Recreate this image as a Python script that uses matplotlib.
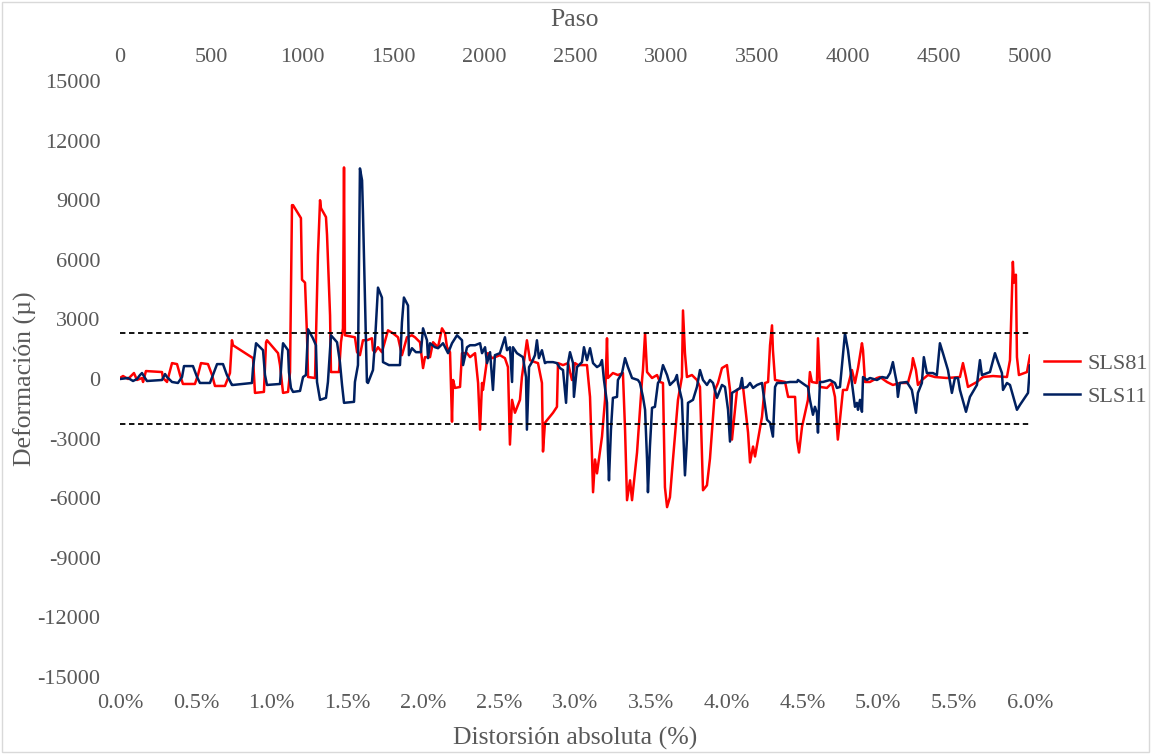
import matplotlib
matplotlib.use("Agg")
import matplotlib.pyplot as plt
from matplotlib.patches import Rectangle

# ---- data (x in % distortion, y in microstrain) ----
sls81_x = [0.000, 0.020, 0.053, 0.092, 0.112, 0.145, 0.152, 0.171, 0.277, 0.283, 0.310, 0.343, 0.376, 0.396,
           0.415, 0.494, 0.514, 0.534, 0.580, 0.607, 0.626, 0.692, 0.712, 0.725, 0.738, 0.745, 0.877, 0.890,
           0.949, 0.963, 0.969, 1.042, 1.055, 1.075, 1.108, 1.121, 1.134, 1.141, 1.193, 1.200, 1.220, 1.233,
           1.240, 1.286, 1.305, 1.319, 1.325, 1.358, 1.365, 1.385, 1.391, 1.444, 1.457, 1.470, 1.477, 1.483,
           1.549, 1.563, 1.582, 1.602, 1.628, 1.661, 1.668, 1.681, 1.701, 1.727, 1.767, 1.800, 1.833, 1.859,
           1.892, 1.925, 1.945, 1.978, 1.998, 2.011, 2.044, 2.064, 2.097, 2.123, 2.143, 2.156, 2.176, 2.189,
           2.196, 2.209, 2.242, 2.255, 2.288, 2.308, 2.341, 2.361, 2.374, 2.387, 2.393, 2.426, 2.453, 2.472,
           2.505, 2.538, 2.558, 2.571, 2.585, 2.604, 2.637, 2.650, 2.683, 2.703, 2.736, 2.756, 2.782, 2.789,
           2.802, 2.855, 2.881, 2.888, 2.921, 2.954, 2.980, 3.000, 3.020, 3.079, 3.099, 3.112, 3.119, 3.132,
           3.145, 3.178, 3.198, 3.211, 3.217, 3.250, 3.283, 3.316, 3.330, 3.343, 3.363, 3.376, 3.409, 3.442,
           3.448, 3.462, 3.475, 3.508, 3.541, 3.560, 3.580, 3.593, 3.607, 3.626, 3.646, 3.679, 3.705, 3.712,
           3.725, 3.738, 3.771, 3.804, 3.824, 3.844, 3.870, 3.890, 3.923, 3.943, 3.969, 4.002, 4.022, 4.035,
           4.068, 4.108, 4.141, 4.154, 4.174, 4.187, 4.233, 4.253, 4.273, 4.286, 4.299, 4.305, 4.319, 4.385,
           4.405, 4.451, 4.464, 4.477, 4.497, 4.536, 4.549, 4.562, 4.595, 4.602, 4.615, 4.661, 4.694, 4.714,
           4.733, 4.747, 4.767, 4.793, 4.826, 4.846, 4.866, 4.892, 4.899, 4.912, 4.945, 4.991, 5.011, 5.057,
           5.096, 5.142, 5.195, 5.221, 5.228, 5.248, 5.261, 5.287, 5.327, 5.373, 5.452, 5.538, 5.558, 5.578,
           5.591, 5.650, 5.690, 5.756, 5.848, 5.868, 5.887, 5.894, 5.907, 5.914, 5.927, 5.980, 6.000, 6.007]
sls81_y = [50, 150, 0, 300, -50, 50, -150, 400, 350, 50, -150, 800, 750, 200,
           -250, -250, 200, 800, 750, 200, -350, -350, 50, 300, 1950, 1700, 1050, -700,
           -650, 1850, 1950, 1300, 700, -700, -650, 350, 8750, 8750, 8100, 5000, 4850, 2200,
           100, 50, 6250, 9000, 8600, 8150, 7250, 3200, 350, 350, 1850, 2550, 10650, 2200,
           2100, 1350, 1200, 1950, 1950, 2050, 1450, 1350, 1600, 1350, 2450, 2300, 2100, 1200,
           2100, 2200, 2100, 1850, 550, 1100, 1100, 1850, 1600, 2550, 2300, 1600, 1350, -2150,
           -50, -450, -400, 1300, 1300, 1100, 1300, -200, -2550, -200, -550, 1300, 1050, 1100,
           1200, 1050, 600, -3300, -1050, -1700, -1050, 100, 1950, 950, 850, 800, -200, -3650,
           -2200, -1700, -1400, 800, 700, 800, -50, 800, 700, 700, -900, -3900, -5700, -4050,
           -4750, -2900, -1050, 2050, 50, 300, 200, 300, -2550, -6100, -5100, -6100, -3700, -50,
           450, 2300, 350, 50, 200, -150, -200, -5450, -6450, -5950, -4050, -1050, 100, 3450,
           1300, 100, 200, -50, -400, -5600, -5350, -4000, -550, -200, 550, 700, -550, -3050,
           -550, -400, -2700, -4200, -3400, -3900, -1900, -200, -150, 1700, 2700, 1450, -50, -150,
           -900, -900, -3050, -3700, -2400, -1050, 350, -150, -200, 2050, -400, -450, -200, -900,
           -3050, -2050, -550, -550, 450, -200, 550, 1800, 1450, -150, -150, 50, 100, -150,
           -300, -200, -200, 550, 1050, 450, -300, -50, 200, 100, 50, 100, 800, 100,
           -400, -150, 100, 150, 100, 950, 5900, 4850, 5250, 1100, 200, 350, 1200, 1150]

sls11_x = [0.000, 0.053, 0.086, 0.112, 0.132, 0.145, 0.165, 0.178, 0.277, 0.297, 0.310, 0.343, 0.382, 0.409,
           0.422, 0.481, 0.508, 0.527, 0.593, 0.613, 0.640, 0.679, 0.705, 0.738, 0.745, 0.870, 0.877, 0.897,
           0.943, 0.956, 0.969, 1.055, 1.068, 1.075, 1.108, 1.114, 1.127, 1.141, 1.187, 1.207, 1.226, 1.240,
           1.272, 1.292, 1.299, 1.319, 1.358, 1.371, 1.391, 1.431, 1.450, 1.464, 1.477, 1.543, 1.549, 1.569,
           1.582, 1.596, 1.602, 1.628, 1.635, 1.668, 1.681, 1.701, 1.727, 1.734, 1.773, 1.846, 1.859, 1.872,
           1.899, 1.905, 1.925, 1.951, 1.984, 1.998, 2.024, 2.031, 2.044, 2.077, 2.097, 2.130, 2.163, 2.189,
           2.222, 2.255, 2.262, 2.288, 2.308, 2.341, 2.374, 2.387, 2.407, 2.420, 2.440, 2.459, 2.472, 2.505,
           2.538, 2.552, 2.571, 2.585, 2.591, 2.617, 2.657, 2.677, 2.683, 2.697, 2.716, 2.736, 2.749, 2.762,
           2.782, 2.802, 2.815, 2.855, 2.881, 2.901, 2.921, 2.941, 2.954, 2.967, 2.987, 2.993, 3.013, 3.046,
           3.059, 3.079, 3.099, 3.119, 3.145, 3.165, 3.178, 3.191, 3.211, 3.217, 3.224, 3.237, 3.250, 3.277,
           3.283, 3.310, 3.330, 3.349, 3.376, 3.415, 3.428, 3.448, 3.462, 3.475, 3.481, 3.494, 3.508, 3.527,
           3.547, 3.560, 3.580, 3.607, 3.626, 3.659, 3.672, 3.679, 3.705, 3.712, 3.725, 3.738, 3.745, 3.778,
           3.804, 3.824, 3.844, 3.870, 3.890, 3.910, 3.936, 3.969, 3.989, 4.009, 4.022, 4.035, 4.068, 4.088,
           4.101, 4.108, 4.134, 4.154, 4.174, 4.200, 4.233, 4.239, 4.266, 4.286, 4.305, 4.319, 4.332, 4.371,
           4.418, 4.464, 4.470, 4.497, 4.516, 4.536, 4.549, 4.562, 4.569, 4.582, 4.595, 4.602, 4.615, 4.635,
           4.681, 4.714, 4.727, 4.747, 4.780, 4.800, 4.826, 4.846, 4.859, 4.866, 4.879, 4.892, 4.899, 4.925,
           4.945, 4.991, 5.024, 5.057, 5.077, 5.096, 5.109, 5.122, 5.129, 5.142, 5.188, 5.221, 5.248, 5.261,
           5.287, 5.300, 5.320, 5.360, 5.386, 5.406, 5.426, 5.459, 5.485, 5.505, 5.525, 5.538, 5.578, 5.604,
           5.650, 5.670, 5.683, 5.736, 5.769, 5.789, 5.815, 5.822, 5.848, 5.868, 5.914, 5.934, 5.987, 6.000,
           6.007]
sls11_y = [0, 50, -100, 0, 200, 300, 50, -100, -50, 250, 100, -150, -200, 100,
           650, 650, 100, -200, -200, 200, 750, 750, 200, -300, -300, -200, 550, 1800,
           1450, 200, -300, -250, 1200, 1800, 1450, 350, -450, -650, -600, 100, 200, 2500,
           2050, 1700, -150, -1050, -950, -150, 2200, 1850, 850, -300, -1200, -1150, -150, 700,
           10600, 10000, 8350, -150, -200, 450, 1850, 4600, 4100, 850, 700, 700, 2850, 4100,
           3700, 1200, 1550, 1350, 1350, 2550, 1950, 1050, 1800, 1600, 1550, 1800, 1300, 1800,
           2200, 1950, 700, 1600, 1700, 1700, 1800, 1300, 1600, 800, 1350, -550, 1200, 1300,
           2100, 1450, 1600, -150, 1600, 1300, 1100, 100, -2550, 600, 850, 1200, 1950, 1050,
           1450, 800, 850, 850, 800, 550, 450, -1200, 800, 1350, 800, -900, 600, 850,
           1600, 950, 1550, 800, 600, 700, 950, -50, -1200, -3550, -5100, -2550, -950, -900,
           -50, 300, 1050, 600, 50, -50, -200, -900, -1550, -4050, -5700, -3400, -1450, -1400,
           -200, -50, 700, 200, -300, -50, 200, -200, -1050, -2400, -4850, -3050, -1200, -1050,
           -400, 450, -50, -300, -50, -200, -950, -300, -400, -1550, -3150, -700, -550, -450,
           50, -450, -400, -200, -450, -300, -200, -550, -2050, -2200, -2900, -400, -200, -200,
           -150, -150, -50, -200, -300, -400, -1050, -1550, -1800, -1400, -1700, -2700, -150, -150,
           -50, -200, -450, -400, 2300, 1450, -200, -1400, -1200, -1550, -1050, -1650, 100, -50,
           50, -50, 100, 50, 300, 850, 300, -200, -900, -200, -150, -550, -1700, -700,
           -200, 1100, 300, 300, 200, 1800, 1300, 450, -700, 50, 50, -550, -1650, -900,
           -300, 950, 200, 350, 1300, 850, 300, -550, -200, -300, -1550, -1300, -700, 700,
           200]

limit_upper = 2330
limit_lower = -2270

x_min, x_max = 0.0, 6.0
paso_min, paso_max = 0, 5000
y_min, y_max, y_step = -15000, 15000, 3000
x_ticks = [0.0, 0.5, 1.0, 1.5, 2.0, 2.5, 3.0, 3.5, 4.0, 4.5, 5.0, 5.5, 6.0]
paso_ticks = [0, 500, 1000, 1500, 2000, 2500, 3000, 3500, 4000, 4500, 5000]

# ---- plotting ----
plt.rcParams['font.family'] = ['Liberation Serif', 'DejaVu Serif']
plt.rcParams['axes.unicode_minus'] = False
gray = '#595959'

fig = plt.figure(figsize=(11.51, 7.54), dpi=100)
fig.patches.append(Rectangle((0.0015, 0.002), 0.997, 0.996, transform=fig.transFigure,
                             fill=False, edgecolor='#d9d9d9', linewidth=1.0))
ax = fig.add_axes([120/1151, 1 - 677/754, 910/1151, 596/754])

ax.plot(sls81_x, sls81_y, color='#ff0000', lw=1.8, label='SLS81', zorder=3)
ax.plot(sls11_x, sls11_y, color='#002060', lw=1.8, label='SLS11', zorder=4)
ax.plot([x_min, x_max], [limit_upper, limit_upper], color='black', lw=1.3,
        linestyle=(0, (3, 2)), zorder=5)
ax.plot([x_min, x_max], [limit_lower, limit_lower], color='black', lw=1.3,
        linestyle=(0, (3, 2)), zorder=5)

ax.set_xlim(x_min, x_max)
ax.set_ylim(y_min, y_max)
ax.set_xticks(x_ticks)
ax.set_xticklabels([f'{t:.1f}%' for t in x_ticks])
ax.set_yticks(list(range(y_min, y_max + 1, y_step)))
for s in ax.spines.values():
    s.set_visible(False)
ax.tick_params(axis='both', length=0, labelsize=16, labelcolor=gray)
ax.tick_params(axis='x', pad=12)
ax.tick_params(axis='y', pad=14)
ax.set_xlabel('Distorsión absoluta (%)', fontsize=18.5, color=gray)
ax.xaxis.set_label_coords(0.5, (677 - 738) / 596)
ax.xaxis.label.set_va('center')
ax.set_ylabel('Deformación (µ)', fontsize=18.5, color=gray)
ax.yaxis.set_label_coords((25 - 120) / 910, 0.5)
ax.yaxis.label.set_va('center')
ax.yaxis.label.set_ha('center')

ax2 = ax.twiny()
ax2.set_xlim(paso_min, paso_max)
ax2.set_xticks(paso_ticks)
for s in ax2.spines.values():
    s.set_visible(False)
ax2.tick_params(axis='x', length=0, labelsize=16, labelcolor=gray, pad=10)
ax2.set_xlabel('Paso', fontsize=18.5, color=gray)
ax2.xaxis.set_label_coords(0.5, (677 - 20) / 596)
ax2.xaxis.label.set_va('center')

leg = ax.legend(loc='center left', bbox_to_anchor=((1044 - 120) / 910, (677 - 380) / 596),
                frameon=False, fontsize=16, handlelength=1.6, handletextpad=0.35,
                labelspacing=0.55, borderpad=0, borderaxespad=0)
for t in leg.get_texts():
    t.set_color(gray)

fig.savefig('out.png', dpi=100)
